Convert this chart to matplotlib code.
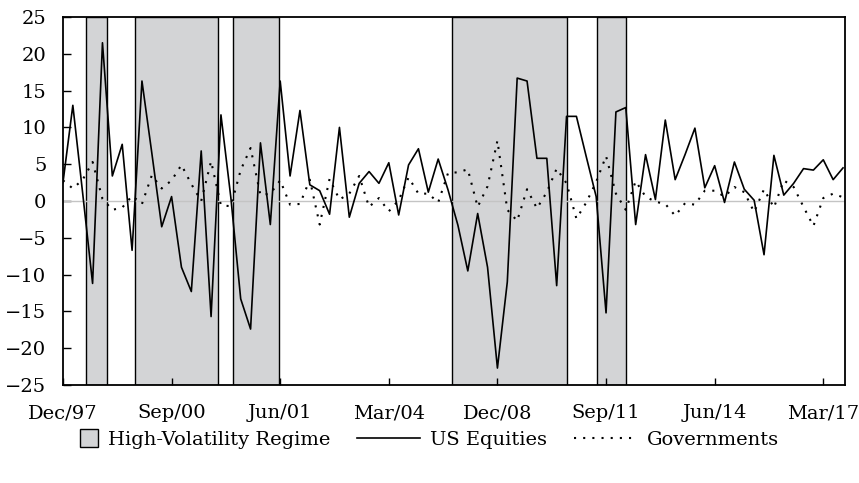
import matplotlib
matplotlib.use("Agg")
import matplotlib.pyplot as plt
import matplotlib.patches as mpatches
from matplotlib.legend_handler import HandlerPatch
from matplotlib.lines import Line2D

plt.rcParams["font.family"] = ["DejaVu Serif"]

# Quarterly returns (%), Dec/97 onwards
equities = [
    2.5, 13.0, 1.0, -11.2, 21.5, 3.4, 7.7, -6.7, 16.3, 6.5,
    -3.5, 0.6, -9.0, -12.3, 6.8, -15.7, 11.7, 0.5, -13.3, -17.4,
    7.9, -3.2, 16.3, 3.4, 12.3, 2.2, 1.4, -1.8, 10.0, -2.2,
    2.4, 4.0, 2.4, 5.2, -1.9, 4.9, 7.1, 1.2, 5.7, 1.5,
    -3.3, -9.5, -1.7, -9.0, -22.7, -11.0, 16.7, 16.3, 5.8, 5.8,
    -11.5, 11.5, 11.5, 6.0, 0.6, -15.2, 12.1, 12.7, -3.2, 6.3,
    0.2, 11.0, 2.9, 6.3, 9.9, 1.8, 4.8, -0.2, 5.3, 1.6,
    0.1, -7.3, 6.2, 0.8, 2.4, 4.4, 4.2, 5.6, 2.9, 4.5,
]
governments = [
    2.8, 1.7, 2.9, 5.3, 0.3, -1.2, -0.9, 0.7, -0.4, 3.5,
    1.7, 2.8, 4.9, 2.3, 0.0, 5.4, -0.6, -0.7, 4.2, 7.2,
    0.8, 1.0, 2.8, -0.5, -0.4, 2.9, -3.2, 3.0, 0.2, 1.0,
    3.4, -0.8, 0.4, -1.4, 0.1, 3.2, 1.0, 1.0, -0.2, 3.8,
    3.9, 4.3, -0.8, 2.0, 8.2, -1.2, -2.7, 1.6, -1.0, 1.2,
    4.4, 2.4, -2.4, -0.2, 2.6, 6.1, 1.0, -1.2, 2.7, 0.6,
    -0.1, -0.4, -2.0, -0.3, -0.5, 1.4, 1.4, 0.6, 1.9, 1.2,
    -1.5, 1.6, -0.9, 2.8, 1.9, -0.8, -3.4, 0.4, 1.0, 0.5,
]

# High-volatility regimes, in quarter positions
regime_start = [2.3, 7.3, 17.2, 39.4, 54.1]
regime_end = [4.5, 15.7, 21.9, 51.0, 57.0]

tick_pos = [0, 11, 22, 33, 44, 55, 66, 77]
tick_labels = ["Dec/97", "Sep/00", "Jun/01", "Mar/04", "Dec/08", "Sep/11", "Jun/14", "Mar/17"]

fig = plt.figure(figsize=(8.59, 4.83), dpi=100)
ax = fig.add_axes([0.0733, 0.2029, 0.9104, 0.7619])

for s, e in zip(regime_start, regime_end):
    ax.axvspan(s, e, facecolor="#d3d4d6", edgecolor="black", linewidth=1.0, zorder=1)

ax.axhline(0, color="#c4c4c4", linewidth=1.0, zorder=2)

x = list(range(len(equities)))
ax.plot(x, equities, color="black", linewidth=1.2, zorder=3)
ax.plot(x, governments, color="black", linewidth=1.5,
        linestyle=(0, (1, 3.4)), zorder=3)

ax.set_xlim(0, 79.2)
ax.set_ylim(-25, 25)
ax.set_yticks(range(-25, 30, 5))
ax.set_xticks(tick_pos)
ax.set_xticklabels(tick_labels)
ax.tick_params(axis="y", direction="in", length=5.5, width=1.0, pad=12, labelsize=14)
ax.tick_params(axis="x", direction="in", length=5, width=1.0, pad=14, labelsize=14)
for sp in ax.spines.values():
    sp.set_linewidth(1.3)
    sp.set_color("black")
    sp.set_zorder(4)


def square_patch(legend, orig_handle, xdescent, ydescent, width, height, fontsize):
    s = height * 1.3
    return mpatches.Rectangle((-xdescent + width - s, -ydescent + (height - s) / 2), s, s)


regime_handle = mpatches.Patch(facecolor="#d3d4d6", edgecolor="black", linewidth=1.0)
eq_handle = Line2D([], [], color="black", linewidth=1.2)
gov_handle = Line2D([], [], color="black", linewidth=1.5, linestyle=(0, (1, 3.4)))

fig.legend([regime_handle, eq_handle, gov_handle],
           ["High-Volatility Regime", "US Equities", "Governments"],
           loc="center left", bbox_to_anchor=(0.02, 0.09), ncol=3, frameon=False,
           fontsize=14, handlelength=3.25, handletextpad=0.5, columnspacing=1.4,
           handler_map={mpatches.Patch: HandlerPatch(patch_func=square_patch)})

fig.savefig("out.png", dpi=100)
